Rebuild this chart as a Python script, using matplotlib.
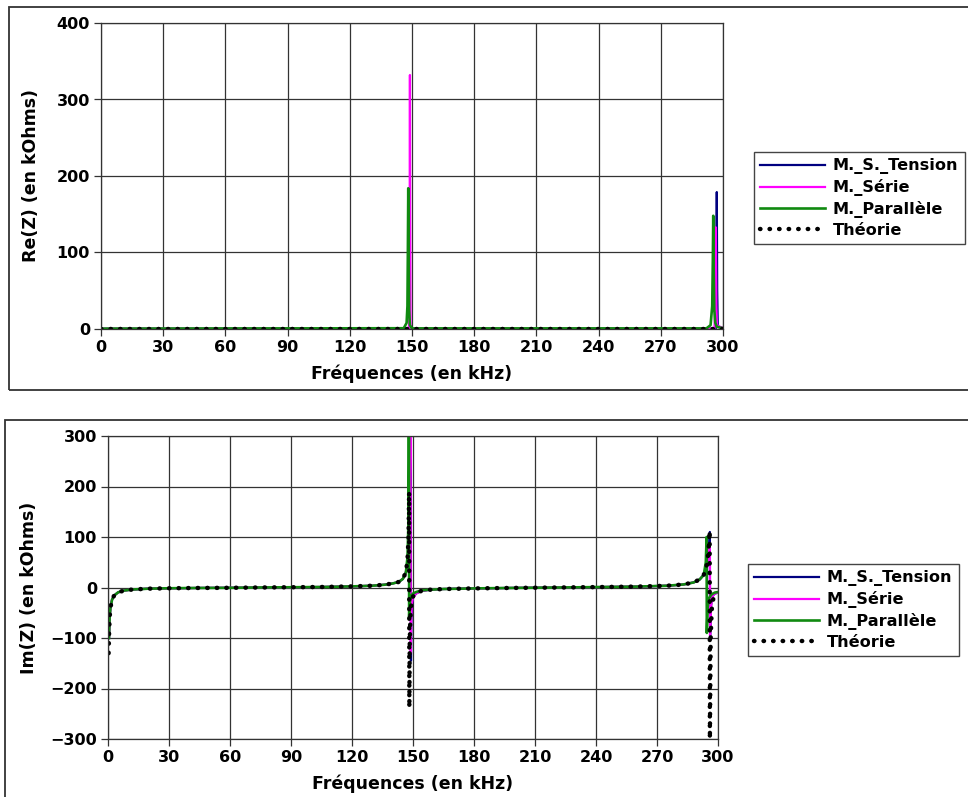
import matplotlib
matplotlib.use("Agg")
import matplotlib.pyplot as plt
from matplotlib.patches import Rectangle

# ---------------- data ----------------
# Re(Z) (kOhms)
re_f_tension = [0, 148.7, 148.9, 149.1, 296.5, 296.8, 297.0, 297.2, 297.5, 300]
re_tension = [0.3, 0.5, 6, 0.5, 0.5, 50, 179, 50, 3, 1]

re_f_serie = [0, 148.5, 148.8, 148.9, 149.0, 149.1, 149.3, 295.9, 296.2, 296.5, 296.8, 297.1, 300]
re_serie = [0.3, 0.5, 20, 150, 332, 150, 0.5, 0.5, 30, 133, 30, 5, 1]

re_f_parallele = [0, 146, 147.4, 147.8, 148.0, 148.2, 148.4, 148.6, 149, 150,
                  292, 294, 294.8, 295.1, 295.3, 295.5, 295.8, 296.3, 297, 300]
re_parallele = [0.5, 1.0, 8, 30, 100, 184, 90, 25, 5, 0.8,
                0.8, 5, 30, 90, 148, 80, 25, 8, 3, 1]

re_f_theorie = [0, 300]
re_theorie = [0, 0]

# Im(Z) (kOhms)
im_f_theorie = [0.3, 0.5, 0.8, 1.2, 2, 3, 5, 8, 12, 20, 30, 45, 60, 74, 90, 105, 120, 130,
                136, 140, 143, 145, 146.5, 147.3, 147.8, 148.1, 148.2, 148.4, 148.7, 149.2,
                150, 151.5, 154, 158, 165, 180, 200, 222, 240, 260, 275, 283, 288, 291, 293,
                294.5, 295.3, 295.9, 296.0, 296.4, 296.9, 297.5, 298.5, 300]
im_theorie = [-130, -95, -60, -40, -24, -16, -9.5, -6, -4, -2.3, -1.5, -0.9, -0.6, 0, 0.5, 1, 2.2, 3.5,
              5.5, 8, 11, 17, 30, 55, 100, 189, -238, -110, -60, -30,
              -18, -11, -7, -4.5, -3, -1.8, -0.8, 0, 0.8, 1.8, 3.5, 6, 10, 16, 25,
              45, 70, 112, -300, -100, -45, -25, -15, -10]

im_f_parallele = [0.5, 0.8, 1.2, 2, 3, 5, 8, 12, 20, 30, 45, 60, 74, 90, 105, 120, 130, 136, 140,
                  143, 145, 146.5, 147.3, 147.7, 147.9, 148.0, 148.1, 148.3, 148.6, 149.2, 150,
                  151.5, 154, 158, 165, 180, 200, 222, 240, 260, 275, 283, 288, 291, 293, 294.0,
                  294.4, 294.5, 294.9, 295.5, 296.5, 297.5, 298.5, 300]
im_parallele = [-100, -60, -40, -24, -16, -9.5, -6, -4, -2.3, -1.5, -0.9, -0.6, 0, 0.5, 1, 2.2, 3.5, 5.5, 8,
                11, 17, 30, 60, 120, 250, 420, -60, -35, -25, -16, -12,
                -9, -6, -4.5, -3, -1.8, -0.8, 0, 0.8, 1.8, 3.5, 6, 10, 16, 25, 50,
                100, -90, -40, -22, -15, -12, -10, -9]

im_f_serie = [0.5, 0.8, 1.2, 2, 3, 5, 8, 12, 20, 30, 45, 60, 74, 90, 105, 120, 130, 136, 140,
              143, 145, 146.5, 147.5, 148.2, 148.6, 148.8, 148.9, 149.1, 149.5, 150, 151.5, 154,
              158, 165, 180, 200, 222, 240, 260, 275, 283, 288, 291, 293, 294.5, 295.6, 296.0,
              296.1, 296.5, 297.0, 297.7, 298.5, 300]
im_serie = [-100, -60, -40, -24, -16, -9.5, -6, -4, -2.3, -1.5, -0.9, -0.6, 0, 0.5, 1, 2.2, 3.5, 5.5, 8,
            11, 17, 30, 60, 130, 260, 420, -130, -60, -30, -20, -12, -7,
            -4.5, -3, -1.8, -0.8, 0, 0.8, 1.8, 3.5, 6, 10, 16, 25, 45, 70, 88,
            -94, -40, -22, -15, -12, -10]

im_f_tension = [0.5, 0.8, 1.2, 2, 3, 5, 8, 12, 20, 30, 45, 60, 74, 90, 105, 120, 130, 136, 140,
                143, 145, 146.5, 147.5, 148.2, 148.7, 148.9, 149.0, 149.2, 149.6, 150, 151.5, 154,
                158, 165, 180, 200, 222, 240, 260, 275, 283, 288, 291, 293, 294.5, 295.6, 296.0,
                296.1, 296.5, 297.0, 297.7, 298.5, 300]
im_tension = [-100, -60, -40, -24, -16, -9.5, -6, -4, -2.3, -1.5, -0.9, -0.6, 0, 0.5, 1, 2.2, 3.5, 5.5, 8,
              11, 17, 30, 60, 130, 260, 420, -145, -60, -30, -20, -12, -7,
              -4.5, -3, -1.8, -0.8, 0, 0.8, 1.8, 3.5, 6, 10, 16, 25, 45, 75, 110,
              -98, -40, -22, -15, -12, -10]

labels = ["M._S._Tension", "M._Série", "M._Parallèle", "Théorie"]
x_ticks = [0, 30, 60, 90, 120, 150, 180, 210, 240, 270, 300]
re_ticks = [0, 100, 200, 300, 400]
im_ticks = [-300, -200, -100, 0, 100, 200, 300]

# ---------------- styling ----------------
plt.rcParams['font.family'] = ['DejaVu Sans']
plt.rcParams['font.weight'] = 'bold'

c_blue = '#000080'
c_mag = '#ff00ff'
c_green = '#108a10'
grid_c = '#333333'

fig = plt.figure(figsize=(9.68, 7.97), dpi=100)

# panel frames
fig.patches.append(Rectangle((9 / 968, 1 - 390 / 797), 1.0, (390 - 7) / 797,
                             transform=fig.transFigure, fill=False,
                             edgecolor='#333333', lw=1.3))
fig.patches.append(Rectangle((5 / 968, -0.1), 1.0, 0.1 + (797 - 420) / 797,
                             transform=fig.transFigure, fill=False,
                             edgecolor='#333333', lw=1.3))

ax1 = fig.add_axes([101 / 968, 1 - 329 / 797, (723 - 101) / 968, (329 - 23) / 797])
ax2 = fig.add_axes([108 / 968, 1 - 739 / 797, (718 - 108) / 968, (739 - 436) / 797])


def draw(ax, fa, a, fb, b, fc, c, fd, d):
    h1, = ax.plot(fa, a, color=c_blue, lw=1.6, label=labels[0])
    h2, = ax.plot(fb, b, color=c_mag, lw=1.6, label=labels[1])
    h3, = ax.plot(fc, c, color=c_green, lw=1.9, label=labels[2])
    h4, = ax.plot(fd, d, color='black', lw=3.2, dashes=(0.1, 2.05),
                  dash_capstyle='round', label=labels[3], clip_on=True)
    return [h1, h2, h3, h4]


draw(ax1, re_f_tension, re_tension, re_f_serie, re_serie,
     re_f_parallele, re_parallele, re_f_theorie, re_theorie)
draw(ax2, im_f_tension, im_tension, im_f_serie, im_serie,
     im_f_parallele, im_parallele, im_f_theorie, im_theorie)

for ax, yt, lab, lp in [(ax1, re_ticks, "Re(Z) (en kOhms)", 12), (ax2, im_ticks, "Im(Z) (en kOhms)", 9)]:
    ax.set_xlim(0, 300)
    ax.set_ylim(yt[0], yt[-1])
    ax.set_xticks(x_ticks)
    ax.set_yticks(yt)
    ax.grid(True, color=grid_c, lw=0.9)
    ax.set_axisbelow(True)
    for s in ax.spines.values():
        s.set_color(grid_c)
        s.set_linewidth(0.9)
    ax.tick_params(direction='out', length=5, width=0.9, color=grid_c,
                   labelsize=11.5, pad=3)
    for t in ax.get_xticklabels() + ax.get_yticklabels():
        t.set_fontweight('bold')
    ax.set_xlabel("Fréquences (en kHz)", fontsize=12.5, fontweight='bold', labelpad=7)
    ax.set_ylabel(lab, fontsize=12.5, fontweight='bold', labelpad=lp)

leg_kw = dict(loc='upper left', frameon=True, fancybox=False, framealpha=1,
              edgecolor='#444444', handlelength=4.0, handletextpad=0.5,
              borderpad=0.4, labelspacing=0.3, borderaxespad=0,
              prop={'weight': 'bold', 'size': 11.6})
l1 = fig.legend(handles=ax1.get_lines(), bbox_to_anchor=(754 / 968, 1 - 152 / 797), **leg_kw)
l2 = fig.legend(handles=ax2.get_lines(), bbox_to_anchor=(748 / 968, 1 - 564 / 797), **leg_kw)
for l in (l1, l2):
    l.get_frame().set_linewidth(1.0)

fig.savefig("out.png", dpi=100)
